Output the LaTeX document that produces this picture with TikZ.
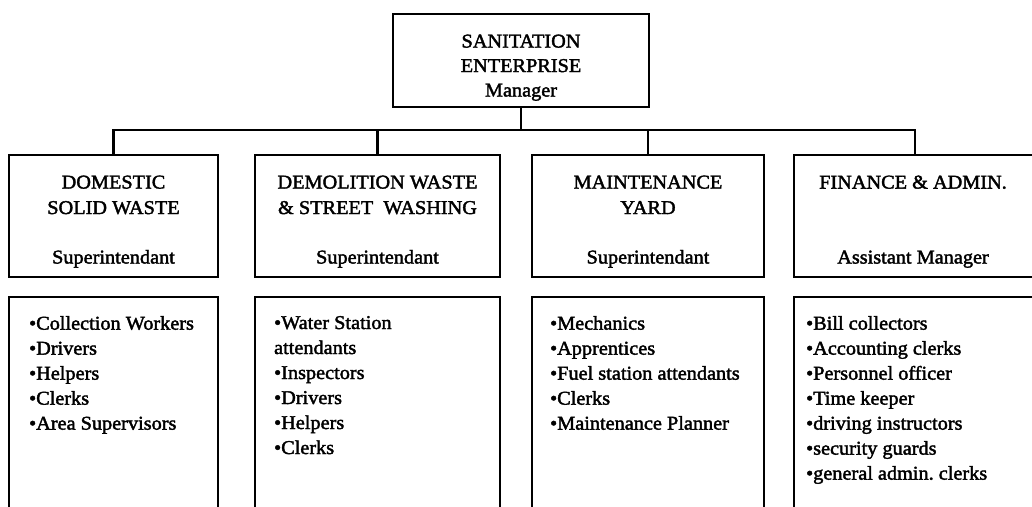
\documentclass[tikz,border=0pt]{standalone}
\usepackage{fontspec}
\setmainfont{Liberation Serif}[FakeStretch=1.04,FakeBold=2]
\frenchspacing
\begin{document}
\begin{tikzpicture}[x=1pt,y=-1pt,
  line width=2.2pt,
  box/.style={draw, rectangle, inner sep=0pt},
  ttl/.style={inner sep=0pt, anchor=north, align=center,
    font=\fontsize{19.5}{25.5}\selectfont},
  sub/.style={inner sep=0pt, anchor=base,
    font=\fontsize{19.5}{25}\selectfont},
  lst/.style={inner sep=0pt, anchor=north west, align=left,
    font=\fontsize{19.5}{25}\selectfont}]
\useasboundingbox (0,0) rectangle (1032,506);
\clip (0,0) rectangle (1032,506);

% top box
\node[box, minimum width=256pt, minimum height=93pt] (top) at (521,60.5) {};
\node[ttl, align=center, font=\fontsize{19.5}{24.5}\selectfont] (toptxt) at (521,33.5) {SANITATION\\ENTERPRISE\\Manager};

% second row
\node[box, minimum width=209pt, minimum height=122pt] (d1) at (113.5,216) {};
\node[box, minimum width=245pt, minimum height=122pt] (d2) at (377.5,216) {};
\node[box, minimum width=232pt, minimum height=122pt] (d3) at (648,216) {};
\node[box, minimum width=242pt, minimum height=122pt] (d4) at (915,216) {};

\node[ttl] (t1) at (113.5,174.5) {DOMESTIC\\SOLID WASTE};
\node[ttl] (t2) at (377.5,174.5) {DEMOLITION WASTE\\\& STREET\ \ WASHING};
\node[ttl] (t3) at (648,174.5) {MAINTENANCE\\YARD};
\node[ttl] (t4) at (913,174.5) {FINANCE \& ADMIN.};

\node[sub] (s1) at (113.5,263.5) {Superintendant};
\node[sub] (s2) at (377.5,263.5) {Superintendant};
\node[sub] (s3) at (648,263.5) {Superintendant};
\node[sub] (s4) at (913,263.5) {Assistant Manager};

% connectors
\coordinate (bus) at (521,130);
\draw (top.south) -- (bus);
\draw (d1.north) |- (bus);
\draw (d2.north) |- (bus);
\draw (d3.north) |- (bus);
\draw (d4.north) |- (bus);

% third row (open at the bottom, beyond the picture)
\node[box, minimum width=209pt, minimum height=240pt] (l1) at (113.5,417) {};
\node[box, minimum width=245pt, minimum height=240pt] (l2) at (377.5,417) {};
\node[box, minimum width=232pt, minimum height=240pt] (l3) at (648,417) {};
\node[box, minimum width=242pt, minimum height=240pt] (l4) at (915,417) {};

\node[lst] (i1) at (28,315) {•Collection Workers\\•Drivers\\•Helpers\\•Clerks\\•Area Supervisors};
\node[lst] (i2) at (273,315) {•Water Station\\attendants\\•Inspectors\\•Drivers\\•Helpers\\•Clerks};
\node[lst] (i3) at (549,315) {•Mechanics\\•Apprentices\\•Fuel station attendants\\•Clerks\\•Maintenance Planner};
\node[lst] (i4) at (805,315) {•Bill collectors\\•Accounting clerks\\•Personnel officer\\•Time keeper\\•driving instructors\\•security guards\\•general admin. clerks};
\end{tikzpicture}
\end{document}
